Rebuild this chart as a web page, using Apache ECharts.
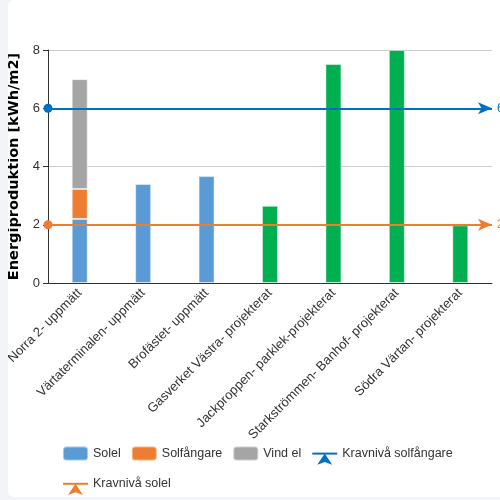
<!DOCTYPE html>
<html><head><meta charset="utf-8">
<script src="https://cdn.jsdelivr.net/npm/echarts@6/dist/echarts.min.js"></script>
<style>
html,body{margin:0;padding:0;width:500px;height:500px;overflow:hidden;background:#f3f4f8;}
#c{position:absolute;left:8px;top:0;width:500px;height:497px;background:#fff;border-radius:6px;}
</style></head>
<body><div id="c"></div>
<script>
const categories = ["Norra 2- uppmätt","Värtaterminalen- uppmätt","Brofästet- uppmätt","Gasverket Västra- projekterat","Jackproppen- parklek-projekterat","Starkströmmen- Banhof- projekterat","Södra Värtan- projekterat"];
const solel = [2.2, 3.4, 3.67, 2.65, 7.52, 8.0, 1.98];
const solfangare = [1.03, null, null, null, null, null, null];
const vindEl = [3.77, null, null, null, null, null, null];
const projectedFlags = [false,false,false,true,true,true,true];
const kravSolfangare = 6;
const kravSolel = 2;
const yTicks = [0,2,4,6,8];

const chart = echarts.init(document.getElementById('c'));
const border = {borderColor:'rgba(255,255,255,0.45)', borderWidth:1};
chart.setOption({
  animation:false,
  grid:{left:40,right:16,top:50,bottom:214,containLabel:false,outerBoundsMode:'none'},
  legend:{
    bottom:-3, left:49, width:420,
    itemWidth:25, itemHeight:14, itemGap:10,
    textStyle:{fontSize:12.5,color:'#333',lineHeight:18},
    data:['Solel','Solfångare','Vind el','Kravnivå solfångare','Kravnivå solel']
  },
  xAxis:{
    type:'category', data:categories,
    axisLine:{lineStyle:{color:'#333'}},
    axisTick:{lineStyle:{color:'#333'}},
    axisLabel:{rotate:45, fontSize:13, color:'#333', interval:0, margin:8}
  },
  yAxis:{
    type:'value', min:yTicks[0], max:yTicks[yTicks.length-1], interval:2,
    name:'Energiproduktion [kWh/m2]', nameLocation:'middle', nameGap:26,
    nameTextStyle:{fontSize:14.5,fontWeight:'bold',color:'#000',fontFamily:'DejaVu Sans'},
    axisLine:{show:true,lineStyle:{color:'#333'}},
    axisTick:{show:true,lineStyle:{color:'#333'}},
    axisLabel:{fontSize:13,color:'#333'},
    splitLine:{lineStyle:{color:'#ccc'}}
  },
  series:[
    {name:'Solel', type:'bar', stack:'a', barWidth:16,
     itemStyle:Object.assign({color:'#5b9bd5'},border),
     data:solel.map((v,i)=>projectedFlags[i]?{value:v,itemStyle:{color:'#00b050'}}:v)},
    {name:'Solfångare', type:'bar', stack:'a', barWidth:16,
     itemStyle:Object.assign({color:'#ed7d31'},border), data:solfangare},
    {name:'Vind el', type:'bar', stack:'a', barWidth:16,
     itemStyle:Object.assign({color:'#a5a5a5'},border), data:vindEl},
    {name:'Kravnivå solfångare', type:'line', data:[], symbol:'arrow', symbolSize:12,
     itemStyle:{color:'#0070c0'}, lineStyle:{color:'#0070c0',width:2},
     markLine:{silent:true, symbol:['circle','arrow'], symbolSize:[9,14],
       lineStyle:{color:'#0070c0',width:2,type:'solid'},
       label:{color:'#0070c0',position:'end',fontSize:12},
       data:[{yAxis:kravSolfangare}]}},
    {name:'Kravnivå solel', type:'line', data:[], symbol:'arrow', symbolSize:12,
     itemStyle:{color:'#ed7d31'}, lineStyle:{color:'#ed7d31',width:2},
     markLine:{silent:true, symbol:['circle','arrow'], symbolSize:[9,14],
       lineStyle:{color:'#ed7d31',width:2,type:'solid'},
       label:{color:'#ed7d31',position:'end',fontSize:12},
       data:[{yAxis:kravSolel}]}}
  ]
});
</script></body></html>
